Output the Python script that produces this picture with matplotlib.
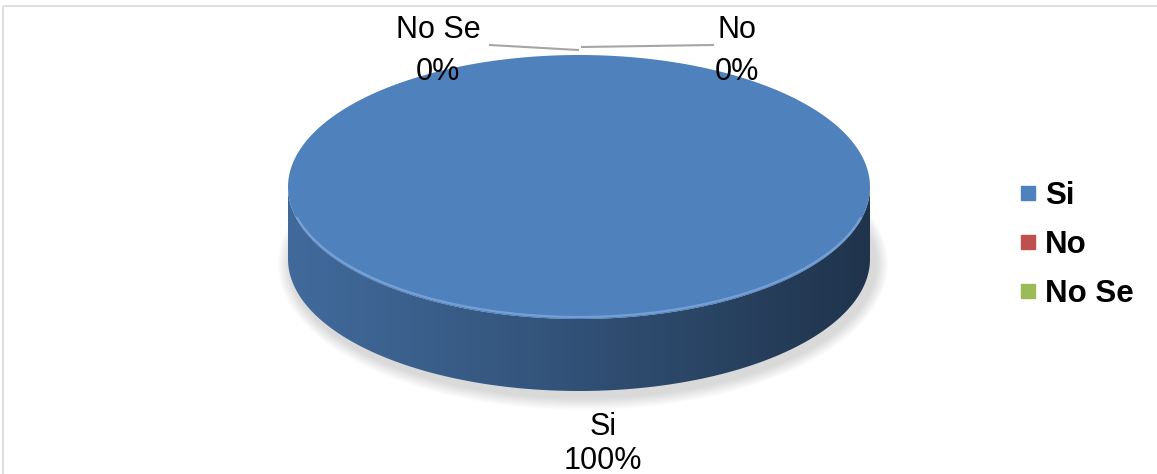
import numpy as np
import matplotlib.pyplot as plt
from matplotlib.patches import Polygon, Ellipse, Rectangle
from matplotlib.lines import Line2D

# --- data ---
categories = ["Si", "No", "No Se"]
values = [100, 0, 0]
colors = ["#4f81bd", "#c0504d", "#9bbb59"]

plt.rcParams['font.family'] = ['Liberation Sans', 'DejaVu Sans']

W, H = 1157, 474
fig = plt.figure(figsize=(W / 100, H / 100), dpi=100)
ax = fig.add_axes([0, 0, 1, 1])
ax.set_xlim(0, W)
ax.set_ylim(H, 0)
ax.axis('off')

# chart area border (cut off on the right and bottom)
ax.add_patch(Rectangle((3, 6), W + 20, H + 20, fill=False, edgecolor='#d9d9d9', lw=1.2))

# 3D pie geometry (pixel layout)
cx, cy, rx, ry, depth = 579, 187, 291, 132, 72


def ell(t, dy=0.0):
    return cx + rx * np.cos(t), cy + ry * np.sin(t) + dy


# soft shadow under the pie
for i in range(10):
    grow = 14 - i * 1.3
    ax.add_patch(Ellipse((cx + 4, cy + depth + 5), 2 * (rx + grow), 2 * (ry + grow),
                         facecolor='#808080', edgecolor='none', alpha=0.03, zorder=1))

fracs = np.array(values, dtype=float) / sum(values)
starts = -np.pi / 2 + 2 * np.pi * np.concatenate([[0], np.cumsum(fracs)[:-1]])
ends = starts + 2 * np.pi * fracs

grad = np.linspace(0, 1, 256)
for c, t0, t1 in zip(colors, starts, ends):
    if t1 - t0 <= 0:
        continue
    base = np.array(plt.matplotlib.colors.to_rgb(c))
    # front side walls: the part of the arc with sin(t) >= 0
    for k in range(-1, 3):
        a0, a1 = max(t0, 2 * np.pi * k), min(t1, 2 * np.pi * k + np.pi)
        if a1 <= a0:
            continue
        tt = np.linspace(a0, a1, 200)
        xs, ys = ell(tt)
        pts = np.vstack([np.column_stack([xs, ys]),
                         np.column_stack([xs[::-1], ys[::-1] + depth])])
        side = Polygon(pts, closed=True, facecolor='none', edgecolor='none', zorder=2)
        ax.add_patch(side)
        shade = 0.82 - 0.42 * grad ** 1.1
        img = (base[None, :] * shade[:, None])[None, :, :]
        im = ax.imshow(img, extent=[cx - rx, cx + rx, cy + ry + depth + 2, cy - 2],
                       aspect='auto', zorder=2, interpolation='bilinear')
        im.set_clip_path(side)
    # top face
    tt = np.linspace(t0, t1, 400)
    xs, ys = ell(tt)
    top = np.column_stack([np.r_[cx, xs], np.r_[cy, ys]])
    ax.add_patch(Polygon(top, closed=True, facecolor=c, edgecolor='none', zorder=3))

# bevel highlight along the front rim
tt = np.linspace(0.08 * np.pi, 0.92 * np.pi, 200)
xs, ys = ell(tt, dy=-2)
ax.plot(xs, ys, color='#7fa9dc', lw=1.6, alpha=0.8, zorder=4, solid_capstyle='round')

# data labels
label_pos = {"Si": (603, 444), "No": (737, 51), "No Se": (438, 51)}
label_gap = {"Si": 1.2, "No": 1.5, "No Se": 1.5}
for cat, v in zip(categories, values):
    x, y = label_pos[cat]
    ax.text(x, y, f"{cat}\n{v / sum(values):.0%}", ha='center', va='center',
            fontsize=22, linespacing=label_gap[cat], zorder=5)

# leader lines for the 0% labels
ax.plot([490, 578], [45, 50], color='#a6a6a6', lw=1.5, zorder=5)
ax.plot([713, 582], [45, 47], color='#a6a6a6', lw=1.5, zorder=5)

# legend
handles = [Line2D([], [], marker='s', linestyle='none', markersize=9.5,
                  markerfacecolor=c, markeredgecolor=c) for c in colors]
ax.legend(handles, categories, loc='center left', bbox_to_anchor=(1003 / W, 1 - 245 / H),
          frameon=False, prop={'weight': 'bold', 'size': 22.5}, handlelength=0.6,
          handletextpad=0.25, labelspacing=0.62, borderpad=0)

fig.savefig('out.png', dpi=100)
